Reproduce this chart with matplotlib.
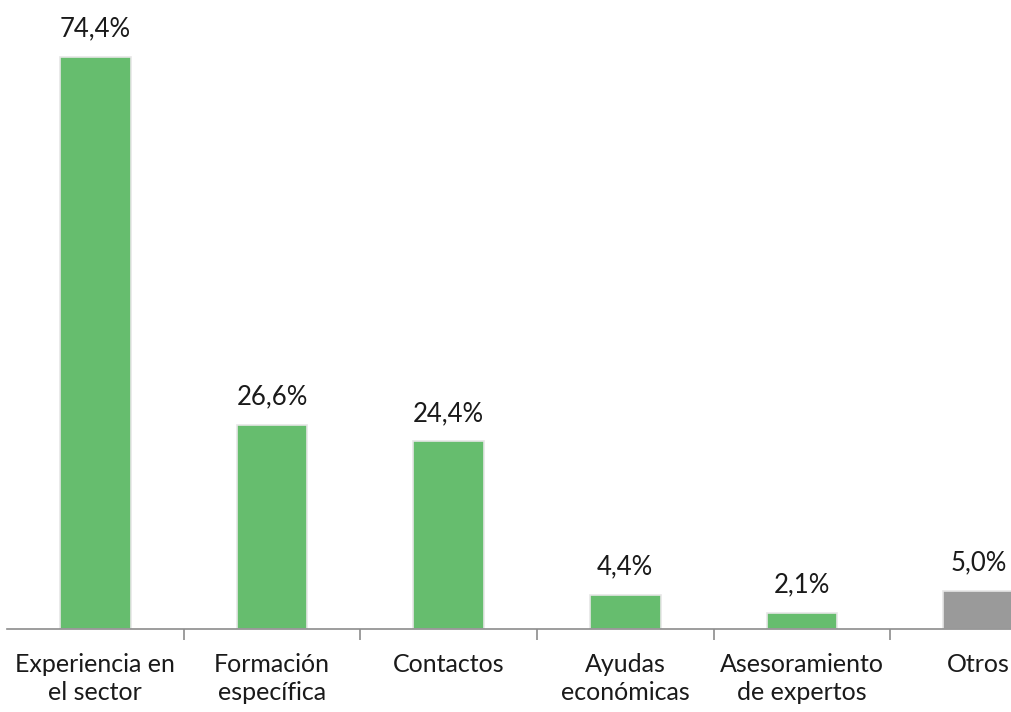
import matplotlib
matplotlib.use("Agg")
from matplotlib import pyplot as plt

# datos del grafico
categorias = ["Experiencia en\nel sector", "Formación\nespecífica", "Contactos",
              "Ayudas\neconómicas", "Asesoramiento\nde expertos", "Otros"]
valores = [74.4, 26.6, 24.4, 4.4, 2.1, 5.0]
etiquetas = ["74,4%", "26,6%", "24,4%", "4,4%", "2,1%", "5,0%"]
colores = ["#66BD6E"] * 5 + ["#9A9A9A"]

plt.rcParams['font.family'] = ['Lato', 'DejaVu Sans']

W, H = 1012, 712
fig = plt.figure(figsize=(W / 100, H / 100), dpi=100)
# el eje se sale por la derecha, la ultima barra queda cortada
left_px, right_px = 7, 1067
base_px, top_px = 629, 14
ax = fig.add_axes([left_px / W, (H - base_px) / H, (right_px - left_px) / W, (base_px - top_px) / H])

x = range(len(valores))
ax.bar(x, valores, width=0.40, color=colores, edgecolor="#E6E6E6", linewidth=1.2)
for xi, v, t in zip(x, valores, etiquetas):
    ax.text(xi, v + 2.0, t, ha="center", va="bottom", fontsize=18.5, color="#1a1a1a")

ax.set_xlim(-0.5, 5.5)
ax.set_ylim(0, 80)
ax.set_yticks([])
for s in ["top", "right", "left"]:
    ax.spines[s].set_visible(False)
ax.spines["bottom"].set_color("#8C8C8C")
ax.spines["bottom"].set_linewidth(1.2)

ax.set_xticks(list(x))
ax.set_xticklabels(categorias, fontsize=18, color="#1a1a1a", linespacing=1.3)
ax.tick_params(axis="x", which="major", length=0, pad=17)
ax.set_xticks([i + 0.5 for i in range(5)], minor=True)
ax.tick_params(axis="x", which="minor", length=8, width=1.2, color="#8C8C8C")

fig.savefig("out.png", dpi=100)
